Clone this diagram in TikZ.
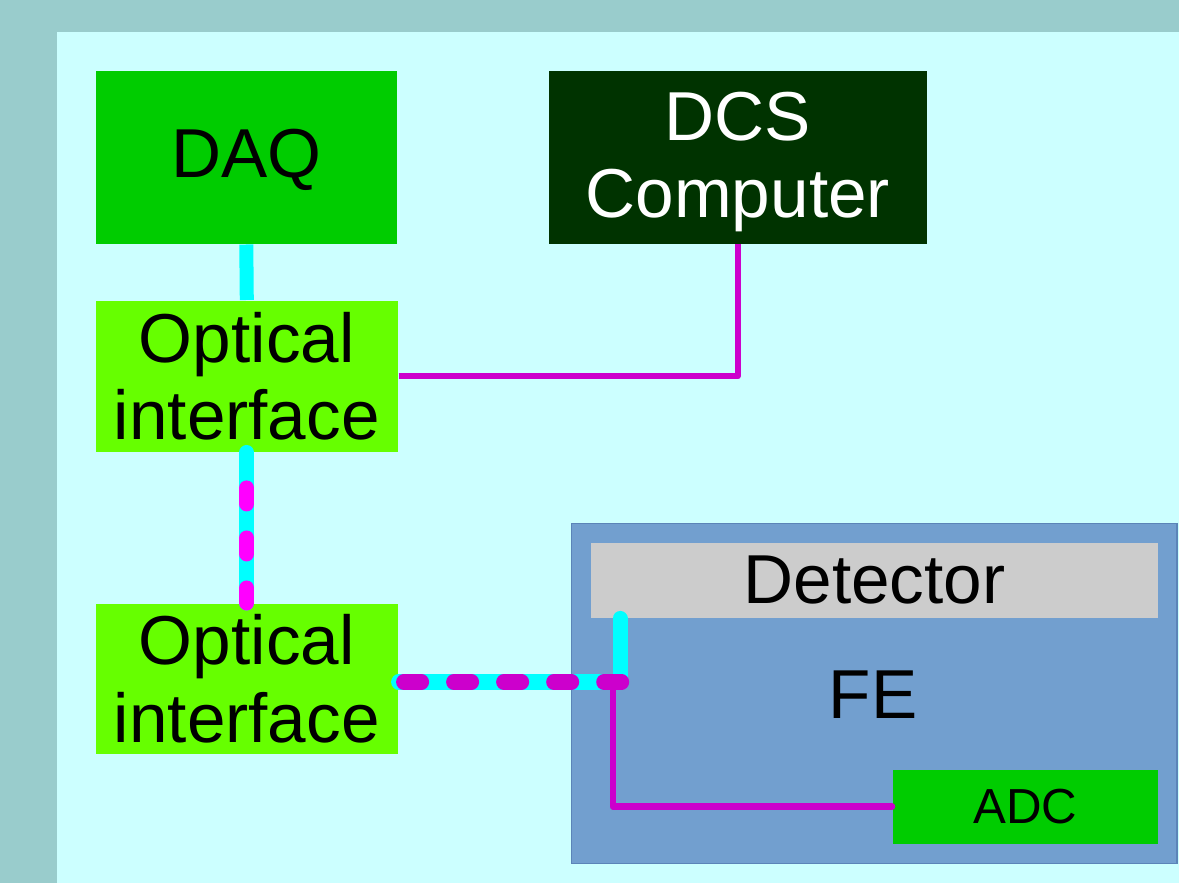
\documentclass[tikz,border=0pt]{standalone}
\usepackage{fontspec}
\setmainfont{Liberation Sans}
\definecolor{outerbg}{HTML}{99CCCC}
\definecolor{innerbg}{HTML}{CCFFFF}
\definecolor{daqgreen}{HTML}{00CC00}
\definecolor{dcsgreen}{HTML}{003300}
\definecolor{optgreen}{HTML}{66FF00}
\definecolor{feblue}{HTML}{729FCF}
\definecolor{feborder}{HTML}{5B84B8}
\definecolor{detgray}{HTML}{CCCCCC}
\definecolor{cyanc}{HTML}{00FFFF}
\definecolor{magA}{HTML}{CC00CC}
\definecolor{magB}{HTML}{FF00FF}
\begin{document}
\begin{tikzpicture}[x=0.01cm,y=-0.01cm,
  blk/.style={anchor=north west, inner sep=0pt, align=center, font=\fontsize{19.7}{22}\selectfont},
  lbl/.style={inner sep=0pt, align=center, font=\fontsize{19.7}{22}\selectfont},
  cyanline/.style={draw=cyanc, line width=0.15cm, line cap=round, line join=round},
  magthin/.style={draw=magA, line width=0.065cm, line cap=round, line join=round},
  magdash/.style={line width=0.15cm, line cap=round}
]
\useasboundingbox (0,0) rectangle (1179,883);
\fill[outerbg] (0,0) rectangle (1179,883);
\fill[innerbg] (57,32) rectangle (1179,883);

\node[blk, fill=daqgreen, minimum width=3.01cm, minimum height=1.73cm] (daq) at (95,70) {};
\node[lbl] (daqlabel) at ([yshift=-0.03cm]daq.center) {DAQ};
\node[blk, fill=dcsgreen, minimum width=3.78cm, minimum height=1.73cm] (dcs) at (548,70) {};
\node[lbl, text=white] (dcslabel) at ([yshift=-0.05cm]dcs.center) {DCS\\Computer};
\node[blk, fill=optgreen, minimum width=3.02cm, minimum height=1.51cm] (opt1) at (95,300) {Optical\\interface};
\node[blk, fill=optgreen, minimum width=3.02cm, minimum height=1.50cm] (opt2) at (95,603) {Optical\\interface};

\node[anchor=north west, inner sep=0pt, fill=feblue, draw=feborder, line width=0.012cm, minimum width=6.05cm, minimum height=3.40cm] (fe) at (571,523) {};
\node[blk, fill=detgray, minimum width=5.67cm, minimum height=0.75cm] (det) at (590,542) {Detector};
\node[lbl] (felabel) at (873,695) {FE};
\node[blk, fill=daqgreen, minimum width=2.65cm, minimum height=0.74cm, font=\fontsize{14}{16}\selectfont] (adc) at (892,769) {ADC};

\coordinate (j) at (620,682);
\coordinate (k) at (613,682);

% DAQ - optical 1
\draw[cyanline, line width=0.14cm, line cap=butt] (daq.south) -- (opt1.north);
% optical 1 - DCS
\draw[magthin, line width=0.06cm, line cap=butt] (opt1.east) -| (dcs.south);
% optical 1 - optical 2
\draw[cyanline] (opt1.south) -- (opt2.north);
\draw[magdash, draw=magB, dash pattern=on 0.16cm off 0.34cm, dash phase=0.01cm] (opt2.north) -- ([yshift=-0.18cm]opt1.south);
% optical 2 - detector
\draw[cyanline] (opt2.east |- j) -- (j) -- (j |- det.south);
\draw[magthin] (k) |- (adc.west);
\draw[magdash, draw=magA, dash pattern=on 0.18cm off 0.32cm, dash phase=0.45cm] (opt2.east |- j) -- ([xshift=0.02cm]j);
\end{tikzpicture}
\end{document}
